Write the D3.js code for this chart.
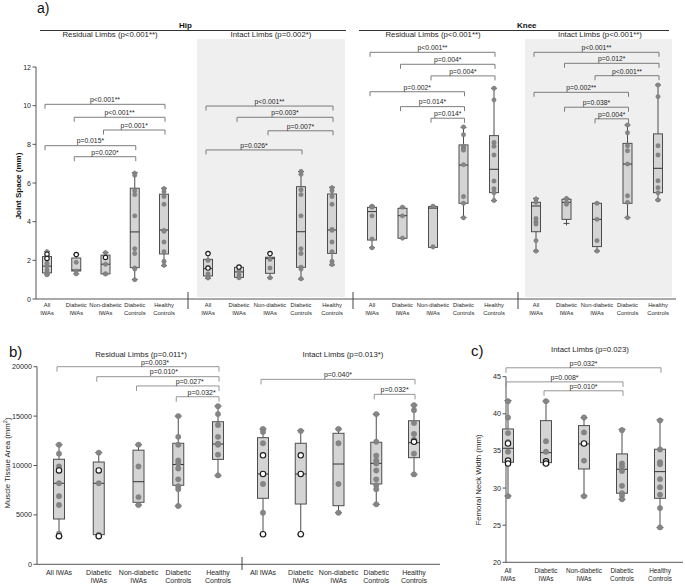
<!DOCTYPE html>
<html><head><meta charset="utf-8">
<script src="https://cdn.jsdelivr.net/npm/d3@7"></script>
<style>body{margin:0;background:#fff}svg{display:block;font-family:"Liberation Sans",Arial,sans-serif}</style>
</head><body><svg id="chart" width="685" height="585"></svg>
<script>
// ---------------- DATA ----------------
const categories = ["All IWAs","Diabetic IWAs","Non-diabetic IWAs","Diabetic Controls","Healthy Controls"];
const labelLines = [["All","IWAs"],["Diabetic","IWAs"],["Non-diabetic","IWAs"],["Diabetic","Controls"],["Healthy","Controls"]];
const ticksA = [0,2,4,6,8,10,12];
const ticksB = [0,5000,10000,15000,20000];
const ticksC = [20,25,30,35,40,45];

// stats per category: [min, q1, median, q3, max]
const hipResidualStats = [[1.25,1.35,1.7,2.2,2.45],[1.3,1.45,1.5,2.12,2.3],[1.3,1.3,1.8,2.27,2.4],[1.0,1.62,3.47,5.73,6.53],[1.72,2.33,3.57,5.42,5.73]];
const hipResidualPoints = [[2.45,2.2,1.85,1.7,1.5,1.35,1.25],[1.9,1.45,1.3],[2.4,1.8,1.3,1.3],[6.5,6.4,5.6,5.4,4.3,2.6,2.35,1.6,1.55,1.0],[5.7,5.55,5.3,4.9,3.55,3.5,2.95,2.45,1.95,1.75]];
const hipResidualOpen = [[2.32,2.1],[2.3],[2.15],[],[]];

const hipIntactStats = [[1.07,1.19,1.57,2.05,2.36],[1.1,1.12,1.4,1.64,1.66],[1.1,1.33,2.1,2.16,2.36],[1.03,1.64,3.48,5.81,6.59],[1.76,2.36,3.57,5.43,5.78]];
const hipIntactPoints = [[2.0,1.3,1.2,1.1],[1.5,1.25,1.1],[2.05,1.6,1.1],[6.6,6.45,5.65,5.4,4.3,2.6,2.35,1.65,1.55,1.05],[5.75,5.6,5.3,4.9,3.6,3.55,2.95,2.45,1.95,1.8]];
const hipIntactOpen = [[2.35,1.6],[1.65],[2.35],[],[]];

const kneeResidualStats = [[2.65,3.05,4.52,4.74,4.81],[3.14,3.14,4.31,4.69,4.75],[2.67,2.67,4.7,4.78,4.8],[4.21,4.95,6.93,7.97,8.88],[5.09,5.5,6.71,8.45,10.9]];
const kneeResidualPoints = [[4.8,4.75,4.3,3.1,2.65],[4.75,4.3,3.15],[4.8,2.7],[8.9,8.5,7.9,7.8,7.7,6.95,5.3,4.95,4.2],[10.9,10.3,8.1,7.9,7.45,6.1,5.7,5.5,5.1]];
const kneeResidualOpen = [[],[],[],[],[]];

const kneeIntactStats = [[2.48,3.48,4.81,5.0,5.21],[3.91,4.12,5.0,5.16,5.2],[2.48,2.71,4.12,4.95,4.95],[4.21,4.95,6.98,8.05,9.0],[5.12,5.5,6.76,8.54,11.07]];
const kneeIntactPoints = [[5.15,5.0,4.17,4.0,3.88,3.02,2.48],[5.2,5.0,4.9],[4.95,4.12,3.02,2.48],[9.0,8.6,7.93,7.67,6.98,5.34,5.0,4.21],[11.07,10.47,7.93,7.45,6.12,5.76,5.5,5.12]];
const kneeIntactOpen = [[],[],[],[],[]];

// brackets: [fromIndex, toIndex, level (data units), label]
const hipResidualBrackets = [[0,4,10.07,"p<0.001**"],[1,4,9.4,"p<0.001**"],[2,4,8.74,"p=0.001*"],[0,3,7.93,"p=0.015*"],[1,3,7.36,"p=0.020*"]];
const hipIntactBrackets = [[0,4,9.98,"p<0.001**"],[1,4,9.4,"p=0.003*"],[2,4,8.7,"p=0.007*"],[0,3,7.71,"p=0.026*"]];
const kneeResidualBrackets = [[0,4,12.76,"p<0.001**"],[1,4,12.14,"p=0.004*"],[2,4,11.54,"p=0.004*"],[0,3,10.72,"p=0.002*"],[1,3,9.95,"p=0.014*"],[2,3,9.35,"p=0.014*"]];
const kneeIntactBrackets = [[0,4,12.76,"p<0.001**"],[1,4,12.19,"p=0.012*"],[2,4,11.55,"p<0.001**"],[0,3,10.69,"p=0.002**"],[1,3,9.92,"p=0.038*"],[2,3,9.32,"p=0.004*"]];

const muscleResidualStats = [[2850,4585,8200,10630,12100],[2850,3000,8200,10350,11300],[6000,6275,8360,11550,12100],[5900,8000,10100,12250,15000],[8970,10620,12170,14430,16020]];
const muscleResidualPoints = [[12100,11200,9900,8200,6900,6000,3100],[11300,8200,3000],[12100,9900,6800,6000],[15000,12900,12100,10500,10200,9700,8600,7900,7600,5900],[16000,15200,14100,12900,12200,12100,11100,9000]];
const muscleResidualOpen = [[9500,2850],[9500,2850],[],[],[]];
const muscleResidualBrackets = [[0,4,20000,"p=0.003*"],[1,4,18990,"p=0.010*"],[2,4,18050,"p=0.027*"],[3,4,16960,"p=0.032*"]];

const muscleIntactStats = [[3040,6680,9140,12815,13690],[3040,6100,9140,12250,13520],[5220,5930,10150,13260,13690],[6070,8130,10220,12350,15180],[9110,10790,12310,14530,16120]];
const muscleIntactPoints = [[13700,13400,12250,8130,5220],[13500],[13700,12250,8130,5220],[15200,12400,11000,10500,10200,9500,8600,8000,7600,6070],[16100,15600,14300,13200,12600,11200,9100]];
const muscleIntactOpen = [[11030,9140,3040],[11030,9140,3040],[],[],[12400]];
const muscleIntactBrackets = [[0,4,18720,"p=0.040*"],[3,4,17200,"p=0.032*"]];

const femoralStats = [[28.94,33.47,35.36,37.96,41.78],[33.2,33.42,34.77,39.08,41.7],[28.94,32.57,35.94,38.41,39.49],[28.49,29.3,32.53,34.6,37.92],[24.67,28.62,32.21,35.23,39.18]];
const femoralPoints = [[41.7,39.5,37.4,36.2,34.9,28.9],[41.7,36.3,34.9],[39.5,37.5,33.7,28.9],[37.8,33.3,32.9,32.3,30.3,29.3,29.0,28.5],[39.1,35.2,33.5,33.2,31.2,30.1,29.1,27.3,24.7]];
const femoralOpen = [[36.0,33.7,33.3],[33.6,33.3],[36.0],[],[]];
const femoralBrackets = [[0,4,46.2,"p=0.032*"],[0,3,44.3,"p=0.008*"],[1,3,43.1,"p=0.010*"]];

// ---------------- LAYOUT (not data) ----------------
const muscleResidualTextShift = [17,6,12,4];

const svg = d3.select("#chart");
const C_BOX = "#d4d4d4", C_STROKE = "#4d4d4d", C_PT = "#858585", C_TXT = "#262626";

function drawGroup(g, x, y, stats, points, open, o) {
  const bw = o.bw, cw = o.cw, r = o.r;
  stats.forEach((s, i) => {
    const cx = x(categories[i]);
    const gg = g.append("g");
    gg.append("line").attr("x1", cx).attr("x2", cx).attr("y1", y(s[4]) - 2).attr("y2", y(s[0]) + 2)
      .attr("stroke", C_STROKE).attr("stroke-width", 1);
    [s[0], s[4]].forEach(v => gg.append("line").attr("x1", cx - cw/2).attr("x2", cx + cw/2)
      .attr("y1", y(v)).attr("y2", y(v)).attr("stroke", C_STROKE).attr("stroke-width", 1));
    gg.append("rect").attr("x", cx - bw/2).attr("width", bw).attr("y", y(s[3]))
      .attr("height", Math.max(0.5, y(s[1]) - y(s[3]))).attr("fill", C_BOX)
      .attr("stroke", C_STROKE).attr("stroke-width", 1);
    gg.append("line").attr("x1", cx - bw/2).attr("x2", cx + bw/2).attr("y1", y(s[2])).attr("y2", y(s[2]))
      .attr("stroke", "#333").attr("stroke-width", 1);
    gg.selectAll("circle.p").data(points[i]).enter().append("circle").attr("class","p")
      .attr("cx", cx).attr("cy", d => y(d)).attr("r", r).attr("fill", C_PT).attr("stroke", "#767676").attr("stroke-width", 0.4);
    gg.selectAll("circle.o").data(open[i]).enter().append("circle").attr("class","o")
      .attr("cx", cx).attr("cy", d => y(d)).attr("r", r).attr("fill", "#fff").attr("stroke", "#1a1a1a").attr("stroke-width", 1.1);
  });
}

function drawBrackets(g, x, y, brackets, o, shifts) {
  brackets.forEach((b, i) => {
    const x1 = x(categories[b[0]]) - 2, x2 = x(categories[b[1]]) + 1, yy = y(b[2]);
    g.append("path").attr("d", `M${x1},${yy + o.tick}V${yy}H${x2}V${yy + o.tick}`)
      .attr("fill", "none").attr("stroke", o.color).attr("stroke-width", 0.9);
    g.append("text").attr("x", (x1 + x2) / 2 + (shifts ? shifts[i] : 0)).attr("y", yy - 2.2)
      .attr("text-anchor", "middle").attr("font-size", o.fs).attr("fill", C_TXT).text(b[3]);
  });
}

function drawLabels(g, x, baseY, fs, lh, singleFirst) {
  labelLines.forEach((ls, i) => {
    const lines = (singleFirst && i === 0) ? [categories[0]] : ls;
    const t = g.append("text").attr("text-anchor", "middle").attr("font-size", fs).attr("fill", C_TXT);
    lines.forEach((l, j) => t.append("tspan").attr("x", x(categories[i])).attr("y", baseY + j * lh).text(l));
  });
}

function yAxis(g, y, ticks, xPos, fs, fmt) {
  g.append("line").attr("x1", xPos).attr("x2", xPos).attr("y1", y(ticks[0])).attr("y2", y(ticks[ticks.length - 1]))
    .attr("stroke", "#555").attr("stroke-width", 1);
  ticks.forEach(t => {
    g.append("line").attr("x1", xPos - 3.5).attr("x2", xPos).attr("y1", y(t)).attr("y2", y(t)).attr("stroke", "#555");
    g.append("text").attr("x", xPos - 5).attr("y", y(t) + 2.5).attr("text-anchor", "end")
      .attr("font-size", fs).attr("fill", C_TXT).text(fmt ? fmt(t) : t);
  });
}

// ---------------- PANEL A ----------------
const yA = d3.scaleLinear().domain([0, 12]).range([299, 67]);
const subA = [
  {range: [47, 164], stats: hipResidualStats, pts: hipResidualPoints, open: hipResidualOpen, br: hipResidualBrackets, title: "Residual Limbs (p<0.001**)", tx: 110},
  {range: [208, 332], stats: hipIntactStats, pts: hipIntactPoints, open: hipIntactOpen, br: hipIntactBrackets, title: "Intact Limbs (p=0.002*)", tx: 271, bg: [197, 345]},
  {range: [372, 494], stats: kneeResidualStats, pts: kneeResidualPoints, open: kneeResidualOpen, br: kneeResidualBrackets, title: "Residual Limbs (p<0.001**)", tx: 433},
  {range: [536, 658], stats: kneeIntactStats, pts: kneeIntactPoints, open: kneeIntactOpen, br: kneeIntactBrackets, title: "Intact Limbs (p<0.001**)", tx: 600, bg: [525, 672]}
];
const gA = svg.append("g");
gA.append("text").attr("x", 37).attr("y", 13).attr("font-size", 14).attr("fill", "#111").text("a)");
subA.forEach(s => { if (s.bg) gA.append("rect").attr("x", s.bg[0]).attr("y", 39).attr("width", s.bg[1] - s.bg[0]).attr("height", 258).attr("fill", "#efefef"); });
gA.append("line").attr("x1", 40).attr("x2", 346).attr("y1", 30.5).attr("y2", 30.5).attr("stroke", "#333");
gA.append("line").attr("x1", 359).attr("x2", 669).attr("y1", 30.5).attr("y2", 30.5).attr("stroke", "#333");
gA.append("text").attr("x", 179).attr("y", 28).attr("font-size", 8).attr("font-weight", "bold").attr("fill", "#111").text("Hip");
gA.append("text").attr("x", 517).attr("y", 28).attr("font-size", 8).attr("font-weight", "bold").attr("fill", "#111").text("Knee");
yAxis(gA, yA, ticksA, 36, 7);
gA.append("text").attr("transform", "translate(21,186) rotate(-90)").attr("text-anchor", "middle")
  .attr("font-size", 8).attr("font-weight", "bold").attr("fill", "#111").text("Joint Space (mm)");
gA.append("line").attr("x1", 36).attr("x2", 676).attr("y1", yA(0)).attr("y2", yA(0)).attr("stroke", "#555");
[188, 353, 518].forEach(sx => gA.append("line").attr("x1", sx).attr("x2", sx).attr("y1", 292).attr("y2", 309).attr("stroke", "#444"));
subA.forEach(s => {
  const x = d3.scalePoint().domain(categories).range(s.range);
  gA.append("text").attr("x", s.tx).attr("y", 37).attr("text-anchor", "middle").attr("font-size", 7.8).attr("fill", C_TXT).text(s.title);
  drawBrackets(gA, x, yA, s.br, {tick: 4.5, color: "#6e6e6e", fs: 6.8});
  drawGroup(gA, x, yA, s.stats, s.pts, s.open, {bw: 9, cw: 6, r: 2.2});
  drawLabels(gA, x, 307, 5.8, 7.5);
});

// ---------------- PANEL B ----------------
const yB = d3.scaleLinear().domain([0, 20000]).range([564.3, 366.7]);
const gB = svg.append("g");
gB.append("text").attr("x", 9).attr("y", 357).attr("font-size", 15).attr("fill", "#111").text("b)");
yAxis(gB, yB, ticksB, 37, 7.2);
gB.append("text").attr("transform", "translate(10,463) rotate(-90)").attr("text-anchor", "middle")
  .attr("font-size", 7.8).attr("fill", C_TXT).html("Muscle Tissue Area (mm<tspan dy='-3' font-size='5.5'>2</tspan><tspan dy='3'>)</tspan>");
gB.append("line").attr("x1", 37).attr("x2", 440).attr("y1", yB(0)).attr("y2", yB(0)).attr("stroke", "#555");
gB.append("line").attr("x1", 242).attr("x2", 242).attr("y1", 557).attr("y2", 570).attr("stroke", "#444");
const subB = [
  {range: [59, 218], stats: muscleResidualStats, pts: muscleResidualPoints, open: muscleResidualOpen, br: muscleResidualBrackets, title: "Residual Limbs (p=0.011*)", tx: 141, shifts: muscleResidualTextShift},
  {range: [263, 414], stats: muscleIntactStats, pts: muscleIntactPoints, open: muscleIntactOpen, br: muscleIntactBrackets, title: "Intact Limbs (p=0.013*)", tx: 343}
];
subB.forEach(s => {
  const x = d3.scalePoint().domain(categories).range(s.range);
  gB.append("text").attr("x", s.tx).attr("y", 356.5).attr("text-anchor", "middle").attr("font-size", 7.8).attr("fill", C_TXT).text(s.title);
  drawBrackets(gB, x, yB, s.br, {tick: 5, color: "#8a8a8a", fs: 7}, s.shifts);
  drawGroup(gB, x, yB, s.stats, s.pts, s.open, {bw: 11, cw: 7, r: 2.7});
  drawLabels(gB, x, 574.5, 7, 8, true);
});

// ---------------- PANEL C ----------------
const yC = d3.scaleLinear().domain([20, 45]).range([562.3, 376.7]);
const gC = svg.append("g");
gC.append("text").attr("x", 471).attr("y", 356).attr("font-size", 15).attr("fill", "#111").text("c)");
yAxis(gC, yC, ticksC, 506, 7.2);
gC.append("text").attr("transform", "translate(481,480) rotate(-90)").attr("text-anchor", "middle")
  .attr("font-size", 7.8).attr("fill", C_TXT).text("Femoral Neck Width (mm)");
gC.append("line").attr("x1", 506).attr("x2", 683).attr("y1", yC(20)).attr("y2", yC(20)).attr("stroke", "#555");
{
  const x = d3.scalePoint().domain(categories).range([508, 660]);
  gC.append("text").attr("x", 590).attr("y", 351.5).attr("text-anchor", "middle").attr("font-size", 7.8).attr("fill", C_TXT).text("Intact Limbs (p=0.023)");
  drawBrackets(gC, x, yC, femoralBrackets, {tick: 5, color: "#8a8a8a", fs: 7});
  drawGroup(gC, x, yC, femoralStats, femoralPoints, femoralOpen, {bw: 11, cw: 7, r: 2.7});
  drawLabels(gC, x, 573, 6.4, 8);
}
</script></body></html>
